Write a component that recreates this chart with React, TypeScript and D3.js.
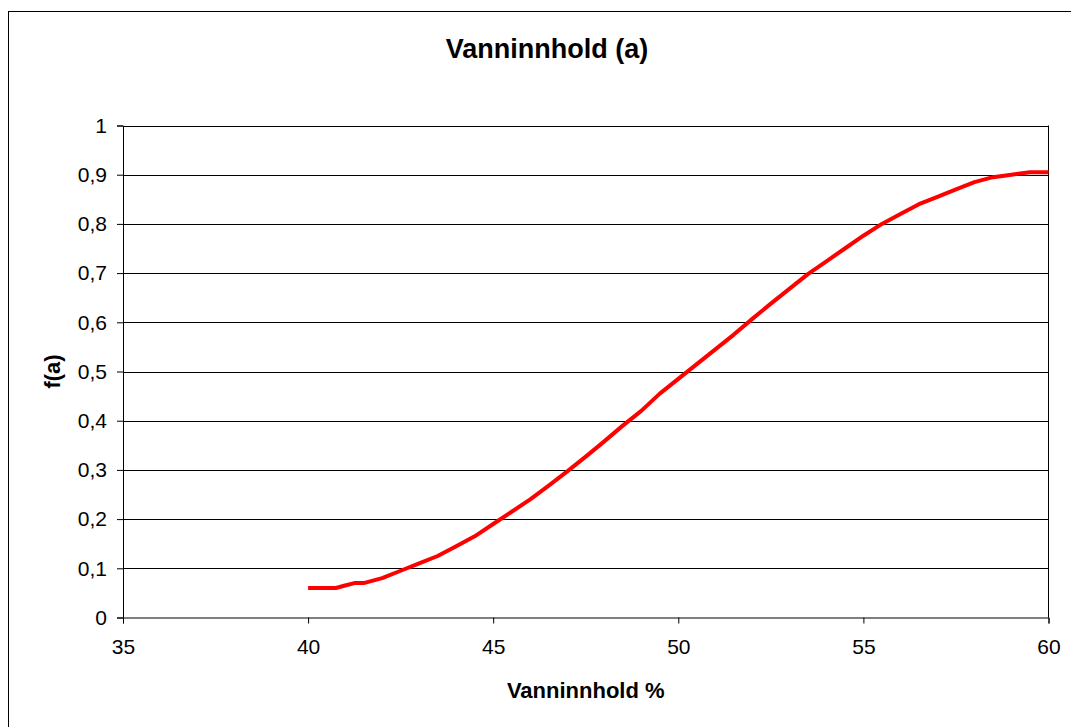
import { useRef, useEffect } from "react";
import * as d3 from "d3";

// data
const waterPct = [40, 40.5, 40.75, 41, 41.25, 41.5, 42, 42.5, 43, 43.5, 44, 44.5, 45, 45.5, 46, 46.5, 47, 47.5, 48, 48.5, 49, 49.5, 50, 50.5, 51, 51.5, 52, 52.5, 53, 53.5, 54, 54.5, 55, 55.5, 56, 56.5, 57, 57.5, 58, 58.5, 59, 59.5, 60]
const fa = [0.06, 0.06, 0.06, 0.065, 0.07, 0.07, 0.08, 0.095, 0.11, 0.125, 0.145, 0.165, 0.19, 0.215, 0.24, 0.268, 0.297, 0.327, 0.358, 0.39, 0.42, 0.455, 0.485, 0.515, 0.545, 0.575, 0.607, 0.638, 0.668, 0.698, 0.724, 0.75, 0.776, 0.8, 0.82, 0.84, 0.855, 0.87, 0.885, 0.895, 0.9, 0.905, 0.905]
const xTicks = [35, 40, 45, 50, 55, 60]
const yTicks = [0, 0.1, 0.2, 0.3, 0.4, 0.5, 0.6, 0.7, 0.8, 0.9, 1]

const W = 1071
const H = 727
const plot = { left: 123, right: 1048.5, top: 125.5, bottom: 617.5 }
const font = "'Liberation Sans', Arial, sans-serif"

const App = () => {
     const ref = useRef<SVGSVGElement | null>(null)

     useEffect(() => {
          const svg = d3.select(ref.current)
          svg.selectAll('*').remove()

          const x = d3.scaleLinear().domain([35, 60]).range([plot.left, plot.right])
          const y = d3.scaleLinear().domain([0, 1]).range([plot.bottom, plot.top])

          // outer chart border (runs off the right and bottom)
          svg.append('rect')
               .attr('x', 8.5).attr('y', 11.5)
               .attr('width', 1100).attr('height', 800)
               .attr('fill', 'white').attr('stroke', 'black').attr('stroke-width', 1)

          // gridlines
          svg.append('g')
               .selectAll('line')
               .data(yTicks.filter(t => t > 0))
               .enter()
               .append('line')
               .attr('x1', plot.left).attr('x2', plot.right)
               .attr('y1', d => Math.round(y(d)) + 0.5)
               .attr('y2', d => Math.round(y(d)) + 0.5)
               .attr('stroke', 'black')

          // right border of plot area
          svg.append('line')
               .attr('x1', plot.right).attr('x2', plot.right)
               .attr('y1', plot.top).attr('y2', plot.bottom)
               .attr('stroke', 'black')

          const xAxis = d3.axisBottom(x).tickValues(xTicks).tickSize(6).tickPadding(16).tickFormat(d => `${d}`)
          const yAxis = d3.axisLeft(y).tickValues(yTicks).tickSize(6).tickPadding(10)
               .tickFormat(d => d3.format('')(+d).replace('.', ','))

          const gx = svg.append('g').attr('transform', `translate(0,${plot.bottom})`).call(xAxis)
          const gy = svg.append('g').attr('transform', `translate(${plot.left},0)`).call(yAxis)
          for (const g of [gx, gy]) {
               g.select('.domain').attr('stroke', 'black')
               g.selectAll('line').attr('stroke', 'black')
               g.selectAll('text').attr('font-family', font).attr('font-size', 21).attr('fill', 'black')
          }

          const line = d3.line<number>()
               .x((_, i) => x(waterPct[i]))
               .y(d => y(d))
          svg.append('path')
               .datum(fa)
               .attr('d', line)
               .attr('fill', 'none')
               .attr('stroke', '#ff0000')
               .attr('stroke-width', 4)
               .attr('stroke-linejoin', 'round')

          svg.append('text')
               .attr('x', 547).attr('y', 58)
               .attr('text-anchor', 'middle')
               .attr('font-family', font).attr('font-weight', 'bold').attr('font-size', 27)
               .text('Vanninnhold (a)')

          svg.append('text')
               .attr('x', (plot.left + plot.right) / 2).attr('y', 698)
               .attr('text-anchor', 'middle')
               .attr('font-family', font).attr('font-weight', 'bold').attr('font-size', 22)
               .text('Vanninnhold %')

          svg.append('text')
               .attr('transform', `translate(60,${(plot.top + plot.bottom) / 2}) rotate(-90)`)
               .attr('text-anchor', 'middle')
               .attr('font-family', font).attr('font-weight', 'bold').attr('font-size', 22)
               .text('f(a)')
     }, [])

     return (
          <svg
               ref={ref}
               width={W}
               height={H}
               style={{ position: 'absolute', left: 0, top: 0, display: 'block', background: 'white' }}
          />
     )
}

export default App
